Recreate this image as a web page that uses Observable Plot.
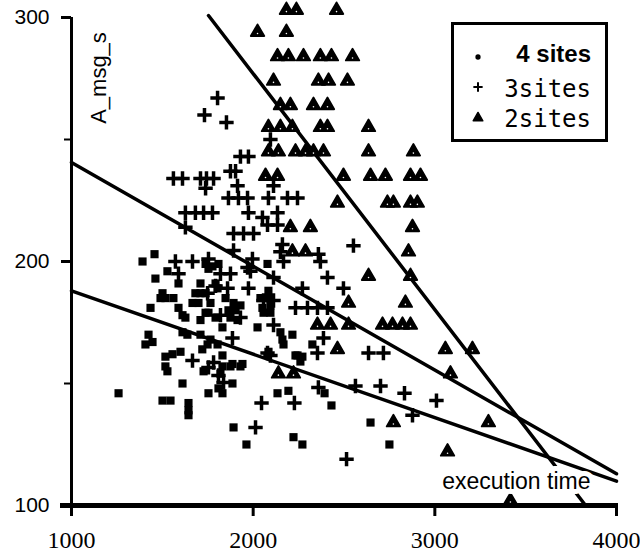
<!DOCTYPE html>
<html>
<head>
<meta charset="utf-8">
<script src="https://cdn.jsdelivr.net/npm/d3@7"></script>
<script src="https://cdn.jsdelivr.net/npm/@observablehq/plot@0.6"></script>
<style>
  body { margin: 0; background: #fff; }
  #chart { position: relative; width: 640px; height: 558px; }
</style>
</head>
<body>
<div id="chart"></div>
<script>
// Axis ticks
const xTicks = [1000, 2000, 3000, 4000];
const yTicks = [100, 200, 300];
const yMinorTicks = [150, 250];

// Series names (legend order)
const seriesNames = ["4 sites", "3sites", "2sites"];

// 4 sites: execution time vs A_msg_s
const fourSitesX = [1391,1457,1528,1462,1589,1738,1754,1776,1809,1710,1793,1682,1710,1738,1804,1848,1501,1490,1517,1561,
  1435,1589,1611,1627,1666,1699,1765,1738,1754,1710,1793,1892,1864,1903,1875,1914,1930,2079,2084,2024,
  1831,1611,1638,1424,1446,1407,1710,1720,1765,1749,2051,2057,2040,2084,2095,2095,2150,2161,2216,2084,
  2244,2271,1886,1941,1517,1556,1600,1517,1528,1804,1831,1831,1820,1875,1930,1727,1611,1809,1831,1886,
  1754,1501,1545,1644,1644,1644,1892,1963,1259,2167,2233,2260,2326,2134,2194,2222,2271,2393,2431,2646,2750];
const fourSitesY = [200,203,196,193,191,199,197,198,199,191,191,187,187,187,189,185,187,185,185,185,
  181,181,178,177,183,183,183,179,179,176,177,183,180,180,177,176,182,199,188,173,
  173,171,170,170,167,166,170,164,168,166,181,179,185,185,182,179,171,168,170,163,
  161.5,161,158,158,161,162,163,157,155,166,161.5,157,154,157,157,155,150,148,146,150,
  146,143,143,142,139,137,132,125,146,166,161.5,159,166,146,147,128,125,146,141,134,125];

// 3sites
const threeSitesX = [1804,1732,1853,2095,1930,1974,1875,1903,1561,1611,1710,1743,1782,1914,2112,1738,1864,1919,1969,2084,
  2189,2244,1627,1682,1727,1776,1974,2051,2134,2079,2134,1627,1892,1947,2002,2161,2552,1892,1996,2150,
  2167,2359,2370,1572,1666,1754,1985,1820,1875,1969,1589,2112,2409,2497,1974,2271,1859,1793,1749,2057,
  2112,2233,2299,2354,2409,1820,1930,2112,1886,2387,2354,2635,2717,2095,1666,1754,1782,1809,1837,2079,
  2046,2227,2359,2563,2701,2833,3009,2877,2013,2514];
const threeSitesY = [267,260,257,250,243,243,237,237,234,234,234,234,234,231,231,230,226,226,226,226,
  226,226,220,220,220,220,220,218,220,215,215,214,211.5,211.5,211.5,207,206.5,204.5,201,204,
  200,203,200,200,200,201,196,195,195,197.5,195,193.4,193.4,189,189,189,189,190,187,184,
  184,181,181,181,181,178,177,174,168.6,168.6,162.5,162.5,162.5,161.5,159.4,156.6,158.6,153.3,150.4,162.5,
  142,142,148.4,149,149,146,143,137,132,119];

// 2sites
const twoSitesX = [2183,2238,2459, 2024,2183, 2134,2194,2277,2370,2431,2547, 2112,2359,2415,2519,
  2150,2205,2332,2409, 2084,2150,2216,2370,2409,2635, 2084,2139,2233,2288,2332,2387,2635,2882,
  2068,2134,2497,2646,2728,2866,2921, 2464,2739,2772,2866,2904, 2205,2315,2877, 2216,2288,2855,
  2635,2866, 2525,2838, 2354,2426,2525,2712,2767,2822,2866, 2464,3058,3207, 2139,2222,3086,
  2772,3295, 3070, 3416];
const twoSitesY = [303,303,303, 294,294, 284,284,284,284,284,284, 274,274,274,274,
  264,264,264,264, 255,255,255,255,255,255, 245,245,245,245,245,245,245,245,
  235,235,235,235,235,235,235, 224,224,224,224,224, 214,214,214, 204,204,204,
  194,194, 183,183, 174,174,174,174,174,174,174, 164,164,164, 154,154,154,
  134,134, 122, 102];

// Least-squares fit lines (end points)
const fourFitX = [1000, 4000],  fourFitY = [188, 110];
const threeFitX = [1000, 4000], threeFitY = [240.6, 113];
const twoFitX = [1754, 3830],   twoFitY = [300.8, 100];

const rows = (xs, ys) => xs.map((x, i) => ({x, y: ys[i]}));
const four = rows(fourSitesX, fourSitesY);
const three = rows(threeSitesX, threeSitesY);
const two = rows(twoSitesX, twoSitesY);
const fits = [rows(fourFitX, fourFitY), rows(threeFitX, threeFitY), rows(twoFitX, twoFitY)];

const sans = "Liberation Sans, Arial, Helvetica, sans-serif";

const plot = Plot.plot({
  width: 640,
  height: 558,
  marginLeft: 71,
  marginRight: 24,
  marginTop: 17,
  marginBottom: 53,
  x: {domain: [1000, 4000]},
  y: {domain: [100, 300]},
  style: {background: "white", color: "black", overflow: "visible"},
  marks: [
    Plot.axisY({ticks: yTicks, tickSize: 10, tickPadding: 12, strokeWidth: 3,
      fontSize: 21, fontFamily: sans, tickFormat: d => String(d), label: null}),
    Plot.axisY({ticks: yMinorTicks, tickSize: 7, strokeWidth: 2, tickFormat: () => "", label: null}),
    Plot.axisX({ticks: xTicks, tickSize: 11, tickPadding: 14, strokeWidth: 3,
      fontSize: 24, fontFamily: "Liberation Serif, Times New Roman, serif", tickFormat: d => String(d), label: null}),
    Plot.ruleX([1000], {strokeWidth: 3, insetBottom: -11}),
    Plot.ruleY([100], {strokeWidth: 5, insetLeft: -11, insetRight: -2}),
    ...fits.map(f => Plot.line(f, {x: "x", y: "y", stroke: "black", strokeWidth: 3.5})),
    Plot.dot(four, {x: "x", y: "y", symbol: "square", r: 4.6, fill: "black"}),
    Plot.dot(three, {x: "x", y: "y", symbol: "plus", r: 4.7, stroke: "black", strokeWidth: 3.5}),
    Plot.dot(two, {x: "x", y: "y", symbol: "triangle", r: 5, fill: "black", stroke: "black",
      strokeWidth: 1.8, strokeLinejoin: "round"}),
    Plot.dot(two, {x: "x", y: "y", r: 0.8, fill: "white", dy: 1.4}),
    Plot.text(["execution time"], {frameAnchor: "bottom-right", dx: -26, dy: -17, textAnchor: "end",
      fontSize: 23, fontFamily: sans, fill: "black", stroke: "white", strokeWidth: 10,
      strokeLinejoin: "round", paintOrder: "stroke"})
  ]
});

const svg = d3.select(plot);

// Rotated y-axis title inside the frame, near the top
svg.append("text")
  .attr("transform", "translate(99,78) rotate(-90)")
  .attr("text-anchor", "middle")
  .attr("dy", "0.32em")
  .attr("font-family", sans).attr("font-size", 22).attr("fill", "black")
  .text("A_msg_s");

// Legend box in the upper right
const legend = svg.append("g").attr("transform", "translate(451,22)");
legend.append("rect")
  .attr("x", 1.5).attr("y", 1.5).attr("width", 154).attr("height", 117)
  .attr("fill", "white").attr("stroke", "black").attr("stroke-width", 3);

const legendRows = [
  {name: seriesNames[0], sym: d3.symbolCircle, size: 22, fill: "black", stroke: "none", sw: 0,
   font: sans, weight: "bold", cy: 35, base: 40},
  {name: seriesNames[1], sym: d3.symbolPlus, size: 30, fill: "none", stroke: "black", sw: 2,
   font: "DejaVu Sans Mono, monospace", weight: "normal", cy: 65, base: 75},
  {name: seriesNames[2], sym: d3.symbolTriangle, size: 40, fill: "black", stroke: "black", sw: 1.5,
   font: "DejaVu Sans Mono, monospace", weight: "normal", cy: 96, base: 105}
];
for (const r of legendRows) {
  legend.append("path")
    .attr("transform", `translate(27,${r.cy})`)
    .attr("d", d3.symbol(r.sym, r.size)())
    .attr("fill", r.fill).attr("stroke", r.stroke).attr("stroke-width", r.sw)
    .attr("stroke-linejoin", "round");
  legend.append("text")
    .attr("x", 140).attr("y", r.base)
    .attr("text-anchor", "end")
    .attr("font-family", r.font).attr("font-weight", r.weight).attr("font-size", 24)
    .attr("fill", "black")
    .text(r.name);
}

document.getElementById("chart").append(plot);
</script>
</body>
</html>
